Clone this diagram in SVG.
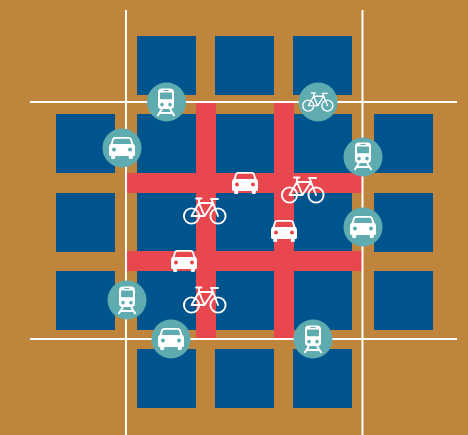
<svg xmlns="http://www.w3.org/2000/svg" width="468" height="435" viewBox="0 0 468 435">
<style>
.bg{fill:#c0853c}
.b{fill:#00548e}
.r{fill:#e8484d}
.l{stroke:#fff;stroke-width:2;fill:none}
.c{fill:#5eabb0}
.i{fill:#fff;fill-rule:evenodd}
.s{fill:none;stroke:#fff;stroke-width:1.9;stroke-linecap:round;stroke-linejoin:round}
</style>
<defs>
<symbol id="car" overflow="visible" viewBox="-13 -11 26 22" x="-13" y="-11" width="26" height="22">
<path class="i" d="M-7 -11H7Q9 -11 9.800 -9L11.200 -4.500Q13 -3.500 13 -1V6.500Q13 8 11.500 8H10.800V10Q10.800 11 9.800 11H7.800Q6.800 11 6.800 10V8H-6.800V10Q-6.800 11 -7.800 11H-9.800Q-10.800 11 -10.800 10V8H-11.500Q-13 8 -13 6.500V-1Q-13 -3.500 -11.200 -4.500L-9.800 -9Q-9 -11 -7 -11ZM-6.500 -9.300Q-7.800 -9.300 -8.200 -8.100L-9.300 -4H9.300L8.200 -8.100Q7.800 -9.300 6.500 -9.300ZM-8 -.500A2 2 0 1 0 -7.999 -.500ZM8 -.500A2 2 0 1 0 8.001 -.500Z"/>
</symbol>
<symbol id="train" overflow="visible" viewBox="-9 -13 18 27" x="-9" y="-13" width="18" height="27">
<path class="i" d="M-4 -13.500H4Q8 -13.500 8 -9.500V3.500Q8 7 4.500 7H-4.500Q-8 7 -8 3.500V-9.500Q-8 -13.500 -4 -13.500ZM-2.500 -12V-11H2.500V-12ZM-6 -8.800V-3.500Q-6 -2.700 -5.200 -2.700H5.200Q6 -2.700 6 -3.500V-8.800Q6 -9.500 5.200 -9.500H-5.200Q-6 -9.500 -6 -8.800ZM-4 .800A1.800 1.800 0 1 0 -3.999 .800ZM4 .800A1.800 1.800 0 1 0 4.001 .800Z"/>
<path d="M-4 7L-8.500 14M4 7L8.500 14M-6 11H6" fill="none" stroke="#fff" stroke-width="2"/>
</symbol>
<symbol id="bike" overflow="visible" viewBox="-21 -13 42 26" x="-21" y="-13" width="42" height="26">
<g class="s">
<circle cx="-13.500" cy="5" r="7.600"/>
<circle cx="13" cy="5" r="7.600"/>
<path d="M-13.500 5L-6 -8L-.5 5H-13.500M-6 -8H8M-.5 5L8 -8M6.500 -12L13 5M-9 -12.500H-3.500M-6 -12.500V-8M6 -12H13"/>
</g>
</symbol>
</defs>
<rect class="bg" width="468" height="435"/>
<g id="blocks">
<rect class="b" x="137" y="36" width="59" height="59"/><rect class="b" x="215" y="36" width="59" height="59"/><rect class="b" x="293" y="36" width="59" height="59"/>
<rect class="b" x="56" y="114" width="59" height="59"/><rect class="b" x="137" y="114" width="59" height="59"/><rect class="b" x="215" y="114" width="59" height="59"/><rect class="b" x="293" y="114" width="59" height="59"/><rect class="b" x="374" y="114" width="59" height="59"/>
<rect class="b" x="56" y="193" width="59" height="59"/><rect class="b" x="137" y="193" width="59" height="59"/><rect class="b" x="215" y="193" width="59" height="59"/><rect class="b" x="293" y="193" width="59" height="59"/><rect class="b" x="374" y="193" width="59" height="59"/>
<rect class="b" x="56" y="271" width="59" height="59"/><rect class="b" x="137" y="271" width="59" height="59"/><rect class="b" x="215" y="271" width="59" height="59"/><rect class="b" x="293" y="271" width="59" height="59"/><rect class="b" x="374" y="271" width="59" height="59"/>
<rect class="b" x="137" y="349" width="59" height="59"/><rect class="b" x="215" y="349" width="59" height="59"/><rect class="b" x="293" y="349" width="59" height="59"/>
</g>
<g id="connectors">
<rect class="r" x="196" y="102" width="20" height="236"/>
<rect class="r" x="274" y="102" width="20" height="236"/>
<rect class="r" x="127" y="173" width="235" height="20"/>
<rect class="r" x="127" y="251" width="235" height="20"/>
<path class="l" d="M126 10V435M362.500 10V435M30 102H457M30 339H457"/>
</g>
<g id="n1"><circle class="c" cx="166.500" cy="102" r="19.500"/><use href="#train" transform="translate(166 102)"/></g>
<g id="n2"><circle class="c" cx="122" cy="148" r="19.500"/><use href="#car" transform="translate(122 148)"/></g>
<g id="n3"><circle class="c" cx="318" cy="102" r="19.500"/><use href="#bike" transform="translate(318 102) scale(.72)"/></g>
<g id="n4"><circle class="c" cx="363" cy="157" r="19.500"/><use href="#train" transform="translate(363 156)"/></g>
<g id="n5"><circle class="c" cx="363" cy="227" r="19.500"/><use href="#car" transform="translate(363 227)"/></g>
<g id="n6"><circle class="c" cx="127" cy="300" r="19.500"/><use href="#train" transform="translate(127 300)"/></g>
<g id="n7"><circle class="c" cx="171" cy="339" r="19.500"/><use href="#car" transform="translate(171 339)"/></g>
<g id="n8"><circle class="c" cx="313" cy="339" r="19.500"/><use href="#train" transform="translate(313 339)"/></g>
<g id="n9"><use href="#car" transform="translate(245 183)"/></g>
<g id="n10"><use href="#car" transform="translate(284 231)"/></g>
<g id="n11"><use href="#car" transform="translate(184 261)"/></g>
<g id="n12"><use href="#bike" transform="translate(303 190)"/></g>
<g id="n13"><use href="#bike" transform="translate(205 211)"/></g>
<g id="n14"><use href="#bike" transform="translate(205 300)"/></g>
</svg>
